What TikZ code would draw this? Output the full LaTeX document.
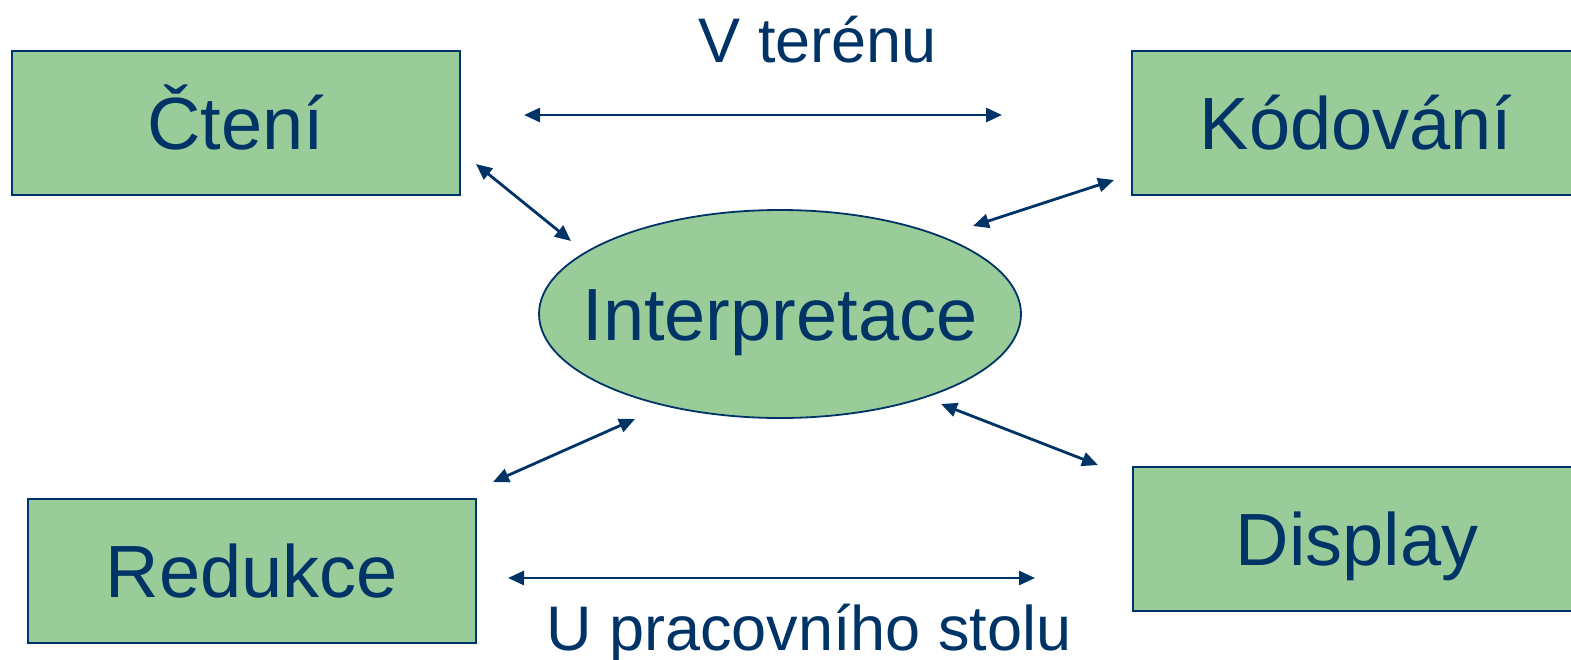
\documentclass[tikz,border=0pt]{standalone}
\usepackage{fontspec}
\setmainfont{Liberation Sans}
\usetikzlibrary{arrows.meta,shapes.geometric}
\definecolor{navy}{HTML}{003366}
\definecolor{leaf}{HTML}{99CC99}
\tikzset{
  box/.style={draw=navy, line width=2.5pt, fill=leaf, minimum width=448pt, minimum height=144pt,
    text=navy, font=\fontsize{74}{80}\selectfont, text height=53pt, text depth=0pt, inner sep=0pt},
  oval/.style={ellipse, draw=navy, line width=1.8pt, fill=leaf, minimum width=482pt, minimum height=208pt, inner sep=0pt},
  ovaltext/.style={text=navy, font=\fontsize{74}{80}\selectfont, text height=53pt, text depth=0pt, inner sep=0pt},
  lbl/.style={text=navy, font=\fontsize{63}{70}\selectfont, inner sep=0pt, anchor=base},
  link/.style={draw=navy, line width=2.8pt, {Triangle[length=16pt,width=14pt]}-{Triangle[length=16pt,width=14pt]}}
}
\begin{document}
\begin{tikzpicture}[x=1pt,y=-1pt]
\useasboundingbox (0,0) rectangle (1571,659);
\begin{scope}
\clip (0,0) rectangle (1571,659);
\node[box] (cteni) at (236,123) {Čtení};
\node[box] (kodovani) at (1356,123) {Kódování};
\node[box] (redukce) at (252,571) {Redukce};
\node[box] (display) at (1357,539) {Display};
\node[oval] (interp) at (780,314) {};
\node[ovaltext] (interptext) at (interp.center) {Interpretace};
\end{scope}
\node[lbl] (teren) at (818,62) {V terénu};
\node[lbl] (stul) at (809,650) {U pracovního stolu};
\coordinate (t1) at (524,115); \coordinate (t2) at (1002,115);
\coordinate (b1) at (508,578); \coordinate (b2) at (1035,578);
\coordinate (c1) at (476,164); \coordinate (c2) at (571,241);
\coordinate (k1) at (1114,180); \coordinate (k2) at (973,226);
\coordinate (r1) at (493,482); \coordinate (r2) at (635,419);
\coordinate (d1) at (941,404); \coordinate (d2) at (1098,465);
\draw[link] (t1) -- (t2);
\draw[link] (b1) -- (b2);
\draw[link] (c1) -- (c2);
\draw[link] (k1) -- (k2);
\draw[link] (r1) -- (r2);
\draw[link] (d1) -- (d2);
\end{tikzpicture}
\end{document}
